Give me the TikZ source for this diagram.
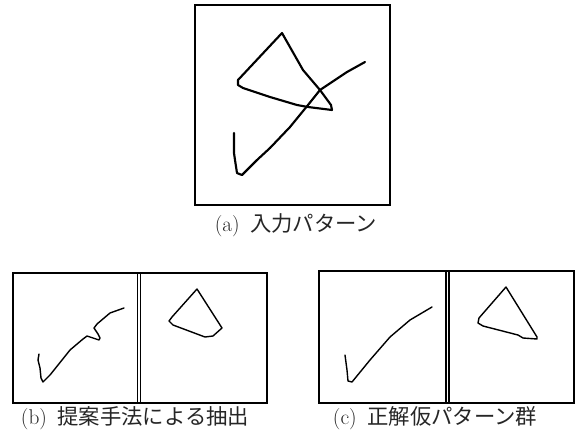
\documentclass[tikz,border=0pt]{standalone}
\usepackage{fontspec}
\newfontfamily\jp{Noto Sans CJK JP}
\begin{document}
\begin{tikzpicture}[x=0.75pt,y=-0.75pt,
  panel/.style={draw=black,line width=0.8pt,fill=white},
  frame/.style={draw=black,line width=2.2pt},
  bigframe/.style={draw=black,line width=2pt,fill=white},
  inkbig/.style={draw=black,line width=1.6pt,line join=round,line cap=round},
  ink/.style={draw=black,line width=1.05pt,line join=round,line cap=round},
  captext/.style={font=\fontsize{16pt}{19pt}\selectfont,inner sep=0pt,text=black!85}
]
\useasboundingbox[fill=white] (0,0) rectangle (576,437);

% (a) input pattern
\draw[bigframe] (195,5) rectangle (390,205);
\draw[inkbig] (282,33) -- (238,80) -- (238,85) -- (243,88) -- (270,97) -- (297,105)
  -- (308,107) -- (332,110) -- (331,105) -- (320,90) -- (303,70) -- cycle;
\draw[inkbig] (365,62) -- (347,72) -- (320,90) -- (308,105) -- (290,127) -- (270,148)
  -- (257,160) -- (242,175) -- (237,173) -- (235,160) -- (234,153) -- (234,133);
\node[captext] (capa) at (296,225) {(a)\hspace{0.5em}{\jp 入力パターン}};

% (b) proposed extraction
\draw[panel] (13,273) rectangle (137.5,403);
\draw[panel] (140.5,273) rectangle (267,403);
\draw[frame] (13,273) rectangle (267,403);
\draw[ink] (124,308) -- (110,313) -- (97,324) -- (94,328) -- (98,334) -- (100,338)
  -- (99,340) -- (96,339) -- (87,336) -- (83,339) -- (70,350) -- (50,375) -- (43,382)
  -- (41,378) -- (40,368) -- (38,360) -- (39,354);
\draw[ink] (197,289) -- (222,328) -- (213,336) -- (205,337) -- (173,325) -- (169,321)
  -- (172,317) -- cycle;
\node[captext] (capb) at (135,418) {(b)\hspace{0.5em}{\jp 提案手法による抽出}};

% (c) correct provisional patterns
\draw[panel] (319,271) rectangle (446,403);
\draw[panel] (449,271) rectangle (574,403);
\draw[frame] (319,271) rectangle (574,403);
\draw[ink] (432,307) -- (410,320) -- (390,337) -- (370,360) -- (352,382) -- (348,381)
  -- (347,370) -- (345,355);
\draw[ink] (506,287) -- (537,337) -- (537,339) -- (523,338) -- (518,335) -- (483,326)
  -- (478,323) -- (479,318) -- cycle;
\node[captext] (capc) at (435,418) {(c)\hspace{0.5em}{\jp 正解仮パターン群}};
\end{tikzpicture}
\end{document}
